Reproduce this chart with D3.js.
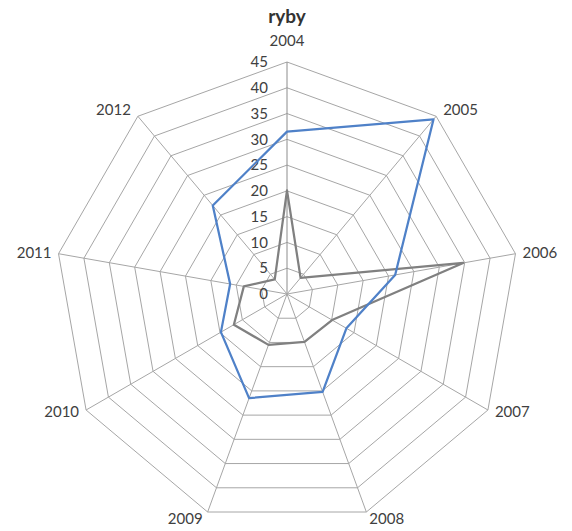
<!DOCTYPE html>
<html>
<head>
    <meta charset="utf-8">
    <script src="https://d3js.org/d3.v7.min.js"></script>
    <style>
        body {
            margin: 0;
            background: #fff;
            font-family: Lato, "Open Sans", sans-serif;
        }

        .grid polygon {
            fill: none;
            stroke: #a6a6a6;
            stroke-width: 1px;
        }

        .spokes line {
            stroke: #a6a6a6;
            stroke-width: 1px;
        }

        text {
            fill: #404040;
            font-size: 15px;
        }
    </style>
</head>
<body>
    <svg id="chart" width="572" height="531"></svg>
    <script>
        var categories = ["2004", "2005", "2006", "2007", "2008", "2009", "2010", "2011", "2012"];
        var blueValues = [31.5, 44.2, 21.3, 13.3, 20.2, 21.5, 14.8, 11.2, 22.4];
        var grayValues = [20.1, 4.1, 34.7, 10.1, 9.9, 10.5, 11.9, 8.5, 3.7];
        var ticks = [0, 5, 10, 15, 20, 25, 30, 35, 40, 45];

        var svg = d3.select("#chart");
        var cx = 287, cy = 294, radius = 232;

        var r = d3.scaleLinear().domain([0, 45]).range([0, radius]);
        var angle = d3.scaleLinear().domain([0, categories.length]).range([0, 2 * Math.PI]);

        function pt(i, v) {
            var a = angle(i);
            return [cx + r(v) * Math.sin(a), cy - r(v) * Math.cos(a)];
        }

        // grid rings
        svg.append("g").attr("class", "grid")
            .selectAll("polygon")
            .data(ticks.slice(1))
            .enter().append("polygon")
            .attr("points", function (t) {
                return categories.map(function (c, i) { return pt(i, t).join(","); }).join(" ");
            });

        // spokes
        svg.append("g").attr("class", "spokes")
            .selectAll("line")
            .data(categories)
            .enter().append("line")
            .attr("x1", cx).attr("y1", cy)
            .attr("x2", function (d, i) { return pt(i, 45)[0]; })
            .attr("y2", function (d, i) { return pt(i, 45)[1]; })
            .style("stroke", function (d, i) { return i === 0 ? "#8c8c8c" : null; });

        // value tick labels
        svg.append("g")
            .selectAll("text")
            .data(ticks)
            .enter().append("text")
            .attr("x", cx - 19)
            .attr("y", function (t) { return cy - r(t); })
            .attr("dy", "0.35em")
            .attr("text-anchor", "end")
            .text(function (t) { return t; });

        // category labels
        svg.append("g")
            .selectAll("text")
            .data(categories)
            .enter().append("text")
            .attr("x", function (d, i) {
                var p = pt(i, 45), s = Math.sin(angle(i));
                if (i === 0) return p[0];
                if (i === 4) return p[0] + 3;
                if (i === 5) return p[0] - 5;
                return p[0] + (s > 0 ? 7 : -7);
            })
            .attr("y", function (d, i) {
                var p = pt(i, 45), c = Math.cos(angle(i));
                if (i === 0) return p[1] - 21;
                if (i === 4 || i === 5) return p[1] + 7;
                return p[1] + (c > 0.5 ? -7 : (c < -0.3 ? 2 : -1));
            })
            .attr("dy", "0.35em")
            .attr("text-anchor", function (d, i) {
                if (i === 0) return "middle";
                if (i === 4) return "start";
                if (i === 5) return "end";
                return Math.sin(angle(i)) > 0 ? "start" : "end";
            })
            .text(function (d) { return d; });

        // series
        var line = d3.line().curve(d3.curveLinearClosed);
        [[grayValues, "#808080"], [blueValues, "#4f81c8"]].forEach(function (s) {
            svg.append("path")
                .attr("d", line(s[0].map(function (v, i) { return pt(i, v); })))
                .attr("fill", "none")
                .attr("stroke", s[1])
                .attr("stroke-width", 2.25)
                .attr("stroke-linejoin", "round");
        });

        // title
        svg.append("text")
            .attr("x", cx)
            .attr("y", 16)
            .attr("dy", "0.35em")
            .attr("text-anchor", "middle")
            .style("font-weight", "bold")
            .style("font-size", "19px")
            .style("fill", "#333")
            .text("ryby");
    </script>
</body>
</html>
